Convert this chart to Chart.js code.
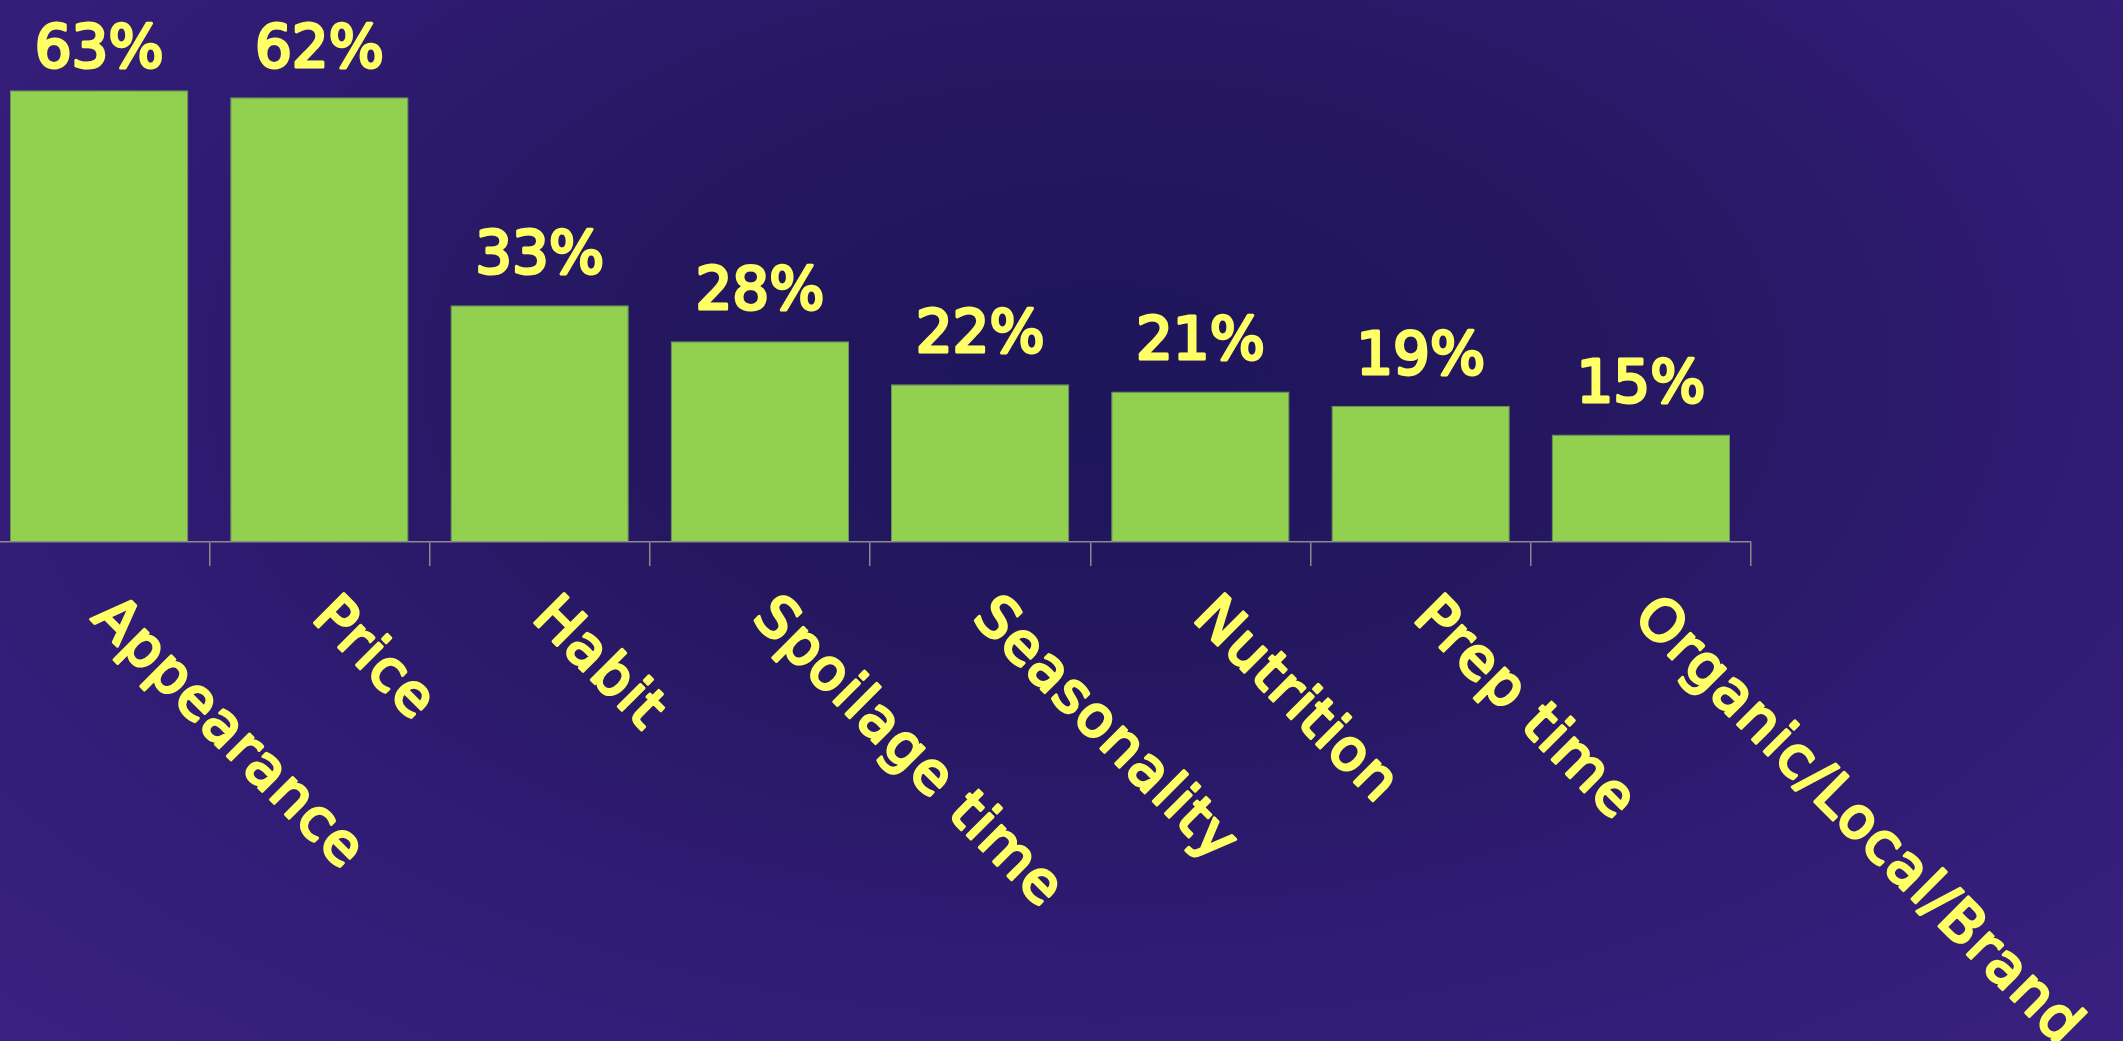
<!DOCTYPE html>
<html>
<head>
<meta charset="utf-8">
<script src="https://cdn.jsdelivr.net/npm/chart.js@4/dist/chart.umd.min.js"></script>
<style>
  html, body {
    margin: 0;
    width: 2123px;
    height: 1041px;
    overflow: hidden;
    background: radial-gradient(ellipse 75% 90% at 52% 36%, #1e155b 0%, #24175f 30%, #2f1b72 60%, #3b2182 100%);
  }
  #wrap {
    position: absolute;
    left: -11px;
    top: 0;
    width: 2134px;
    height: 1041px;
  }
</style>
</head>
<body>
<div id="wrap"><canvas id="faktor"></canvas></div>
<script>
// kategori dan persentase responden
const categories = ["Appearance", "Price", "Habit", "Spoilage time", "Seasonality", "Nutrition", "Prep time", "Organic/Local/Brand"];
const shares = [63, 62, 33, 28, 22, 21, 19, 15];

const kuning = "#ffff66";
const hijau = "#92d050";
const abu = "#8a8a8a";
const hurufLabel = '"Comic Sans MS", "DejaVu Sans", sans-serif';

// teks angka di atas batang dan label kategori miring 45 derajat
const labelPlugin = {
  id: "labelTeks",
  afterDraw(chart) {
    const ctx = chart.ctx;
    const xScale = chart.scales.x;
    const bars = chart.getDatasetMeta(0).data;

    ctx.save();
    ctx.fillStyle = kuning;
    ctx.strokeStyle = kuning;
    ctx.lineJoin = "round";
    ctx.lineWidth = 3;

    ctx.font = "58px " + hurufLabel;
    ctx.textAlign = "center";
    ctx.textBaseline = "alphabetic";
    bars.forEach((bar, i) => {
      const teks = shares[i] + "%";
      const y = Math.max(bar.y - 32, 67);
      ctx.strokeText(teks, bar.x, y);
      ctx.fillText(teks, bar.x, y);
    });

    ctx.font = "57px " + hurufLabel;
    ctx.textAlign = "left";
    ctx.letterSpacing = "1.5px";
    categories.forEach((nama, i) => {
      const x = xScale.getPixelForValue(i) - 9;
      const y = xScale.top + 77;
      ctx.save();
      ctx.translate(x, y);
      ctx.rotate(Math.PI / 4);
      ctx.strokeText(nama, 0, 0);
      ctx.fillText(nama, 0, 0);
      ctx.restore();
    });
    ctx.restore();
  }
};

const ctx = document.getElementById("faktor").getContext("2d");
const chart = new Chart(ctx, {
  type: "bar",
  data: {
    labels: categories,
    datasets: [{
      data: shares,
      backgroundColor: hijau,
      borderColor: "#6e9a5a",
      borderWidth: 1,
      barPercentage: 0.81,
      categoryPercentage: 1.0
    }]
  },
  options: {
    responsive: true,
    maintainAspectRatio: false,
    animation: false,
    layout: {
      padding: { left: 0, right: 372, top: 40, bottom: 475 }
    },
    plugins: {
      legend: { display: false },
      tooltip: { enabled: false }
    },
    scales: {
      x: {
        grid: {
          display: true,
          drawOnChartArea: false,
          drawTicks: true,
          tickLength: 24,
          color: abu,
          lineWidth: 1.5,
          offset: true
        },
        border: { display: true, color: abu, width: 1.5, z: 1 },
        ticks: { display: false }
      },
      y: {
        display: false,
        min: 0,
        max: 70
      }
    }
  },
  plugins: [labelPlugin]
});
</script>
</body>
</html>
